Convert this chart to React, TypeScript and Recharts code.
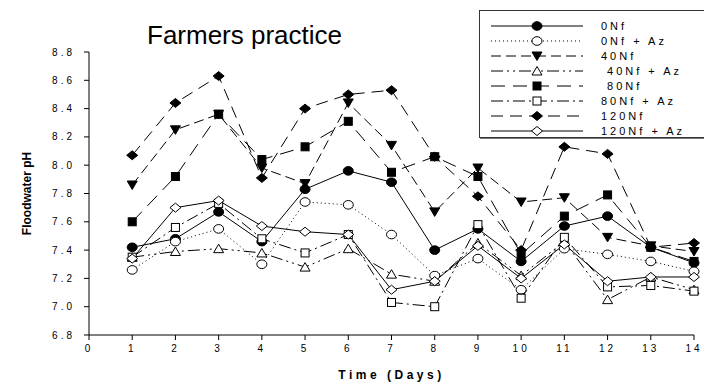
import React from "react";
import { LineChart, Line, XAxis, YAxis, Legend } from "recharts";

const days = [1, 2, 3, 4, 5, 6, 7, 8, 9, 10, 11, 12, 13, 14];
const xTicks = [0, 1, 2, 3, 4, 5, 6, 7, 8, 9, 10, 11, 12, 13, 14];
const yTicks = [6.8, 7.0, 7.2, 7.4, 7.6, 7.8, 8.0, 8.2, 8.4, 8.6, 8.8];

const nf0 = [7.42, 7.48, 7.67, 7.46, 7.83, 7.96, 7.88, 7.4, 7.55, 7.32, 7.57, 7.64, 7.42, 7.31];
const nf0Az = [7.26, 7.46, 7.55, 7.3, 7.74, 7.72, 7.51, 7.22, 7.34, 7.12, 7.41, 7.37, 7.32, 7.25];
const nf40 = [7.86, 8.25, 8.36, 7.98, 7.87, 8.44, 8.14, 7.67, 7.98, 7.74, 7.77, 7.49, 7.43, 7.39];
const nf40Az = [7.35, 7.39, 7.41, 7.38, 7.28, 7.41, 7.23, 7.18, 7.45, 7.22, 7.46, 7.05, 7.21, 7.12];
const nf80 = [7.6, 7.92, 8.36, 8.04, 8.13, 8.31, 7.95, 8.06, 7.92, 7.37, 7.64, 7.79, 7.42, 7.32];
const nf80Az = [7.35, 7.56, 7.73, 7.48, 7.38, 7.51, 7.03, 7.0, 7.58, 7.06, 7.49, 7.14, 7.15, 7.11];
const nf120 = [8.07, 8.44, 8.63, 7.91, 8.4, 8.5, 8.53, 8.06, 7.78, 7.4, 8.13, 8.08, 7.42, 7.45];
const nf120Az = [7.34, 7.7, 7.75, 7.57, 7.53, 7.51, 7.12, 7.18, 7.43, 7.2, 7.44, 7.18, 7.21, 7.21];

const series = [
  { key: "nf0", name: "0Nf", values: nf0, dash: undefined, shape: "circle", filled: true },
  { key: "nf0Az", name: "0Nf + Az", values: nf0Az, dash: "1 3", shape: "circle", filled: false },
  { key: "nf40", name: "40Nf", values: nf40, dash: "10 5", shape: "triDown", filled: true },
  { key: "nf40Az", name: " 40Nf + Az", values: nf40Az, dash: "12 4 2 4 2 4", shape: "triUp", filled: false },
  { key: "nf80", name: " 80Nf", values: nf80, dash: "14 8", shape: "square", filled: true },
  { key: "nf80Az", name: "80Nf + Az", values: nf80Az, dash: "12 4 2 4", shape: "square", filled: false },
  { key: "nf120", name: "120Nf", values: nf120, dash: "12 7", shape: "diamond", filled: true },
  { key: "nf120Az", name: "120Nf + Az", values: nf120Az, dash: undefined, shape: "diamond", filled: false },
];

const data = days.map((day, i) => {
  const row: Record<string, number> = { day };
  series.forEach((s) => {
    row[s.key] = s.values[i];
  });
  return row;
});

const FONT = '"Liberation Sans", Arial, sans-serif';

function Marker({ shape, filled, cx, cy }: { shape: string; filled: boolean; cx: number; cy: number }) {
  const fill = filled ? "#000" : "#fff";
  const common = { fill, stroke: "#000", strokeWidth: 1 };
  if (shape === "circle") return <ellipse cx={cx} cy={cy} rx={5} ry={4.3} {...common} />;
  if (shape === "triDown")
    return <polygon points={`${cx - 5},${cy - 4} ${cx + 5},${cy - 4} ${cx},${cy + 4.5}`} {...common} />;
  if (shape === "triUp")
    return <polygon points={`${cx - 5},${cy + 4} ${cx + 5},${cy + 4} ${cx},${cy - 4.5}`} {...common} />;
  if (shape === "square") return <rect x={cx - 4} y={cy - 4} width={8} height={8} {...common} />;
  return <polygon points={`${cx - 5.5},${cy} ${cx},${cy - 4.5} ${cx + 5.5},${cy} ${cx},${cy + 4.5}`} {...common} />;
}

const LegendBox = () => (
  <div
    style={{
      border: "1px solid #333",
      boxShadow: "1px 1px 0 #777",
      background: "#fff",
      padding: "8px 0 0 11px",
      height: 128,
      boxSizing: "border-box",
      fontFamily: FONT,
    }}
  >
    {series.map((s) => (
      <div key={s.key} style={{ display: "flex", alignItems: "center", height: 14.9 }}>
        <svg width={92} height={14} style={{ display: "block" }}>
          <line x1={0} x2={92} y1={7} y2={7} stroke="#000" strokeWidth={1} strokeDasharray={s.dash} />
          <Marker shape={s.shape} filled={s.filled} cx={46} cy={7} />
        </svg>
        <span
          style={{
            marginLeft: 18,
            fontSize: 11,
            letterSpacing: 3,
            whiteSpace: "pre",
            color: "#000",
          }}
        >
          {s.name}
        </span>
      </div>
    ))}
  </div>
);

export default function App() {
  return (
    <div style={{ position: "relative", width: 704, height: 377 }}>
      <div
        style={{
          position: "absolute",
          left: 139,
          top: 14,
          fontFamily: FONT,
          fontSize: 26,
          lineHeight: "26px",
          color: "#000",
          whiteSpace: "nowrap",
        }}
      >
        Farmers practice
      </div>
      <LineChart width={704} height={377} data={data} margin={{ top: 44, right: 18, bottom: 20, left: 21 }}>
        <XAxis
          dataKey="day"
          type="number"
          domain={[0, 14]}
          ticks={xTicks}
          interval={0}
          height={30}
          axisLine={{ stroke: "#000" }}
          tickLine={{ stroke: "#000" }}
          tickSize={5}
          tickMargin={5}
          tick={{ fontSize: 10, fill: "#000", fontFamily: FONT, letterSpacing: 3 }}
          label={({ viewBox }: any) => (
            <text
              x={viewBox.x + viewBox.width / 2}
              y={371}
              textAnchor="middle"
              fontFamily={FONT}
              fontSize={12}
              fontWeight="bold"
              letterSpacing={3.5}
              fill="#000"
            >
              Time (Days)
            </text>
          )}
        />
        <YAxis
          type="number"
          domain={[6.8, 8.8]}
          ticks={yTicks}
          interval={0}
          width={60}
          axisLine={{ stroke: "#000" }}
          tickLine={{ stroke: "#000" }}
          tickSize={5}
          tickMargin={9}
          tickFormatter={(v: number) => v.toFixed(1)}
          tick={{ fontSize: 10, fill: "#000", fontFamily: FONT, letterSpacing: 3 }}
          label={({ viewBox }: any) => {
            const x = 23;
            const y = viewBox.y + viewBox.height / 2;
            return (
              <text
                x={x}
                y={y}
                transform={`rotate(-90 ${x} ${y})`}
                textAnchor="middle"
                fontFamily={FONT}
                fontSize={12}
                fontWeight="bold"
                fill="#000"
              >
                Floodwater pH
              </text>
            );
          }}
        />
        <Legend
          layout="horizontal"
          align="center"
          verticalAlign="middle"
          content={() => <LegendBox />}
          wrapperStyle={{ position: "absolute", left: 471, top: 2, width: 229, height: 128 }}
        />
        {series.map((s) => (
          <Line
            key={s.key}
            dataKey={s.key}
            name={s.name}
            type="linear"
            stroke="#000"
            strokeWidth={1}
            strokeDasharray={s.dash}
            isAnimationActive={false}
            activeDot={false}
            dot={(p: any) => (
              <Marker key={`${s.key}-${p.index}`} shape={s.shape} filled={s.filled} cx={p.cx} cy={p.cy} />
            )}
          />
        ))}
      </LineChart>
    </div>
  );
}
